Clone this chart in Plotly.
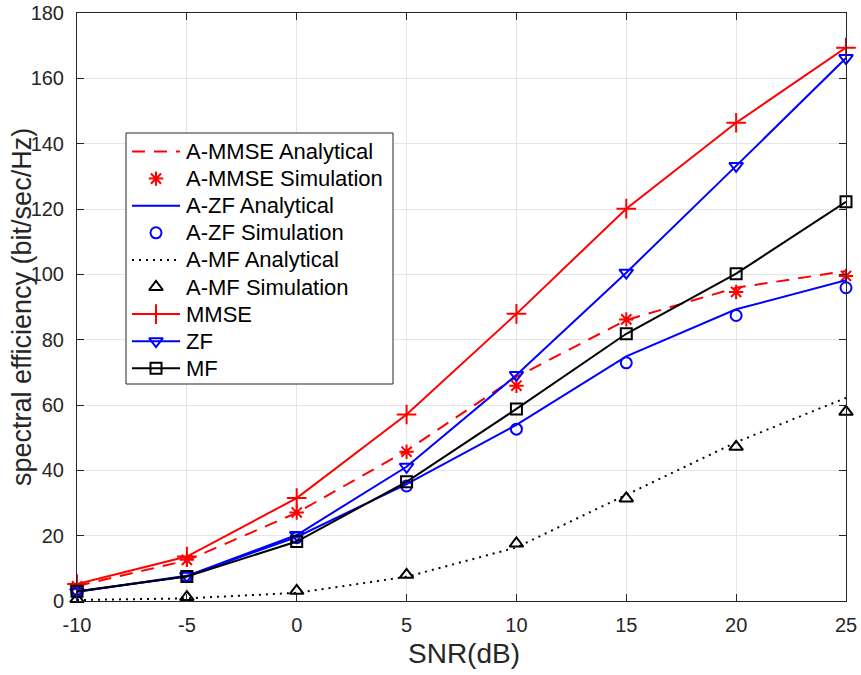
import plotly.graph_objects as go

snr = [-10, -5, 0, 5, 10, 15, 20, 25]

a_mmse_analytical = [4.6, 12.4, 27.0, 46.0, 68.6, 86.0, 95.9, 101.0]
a_mmse_simulation = [4.5, 12.6, 27.1, 45.7, 65.9, 86.2, 94.6, 99.5]
a_zf_analytical = [2.8, 7.6, 19.6, 35.8, 53.9, 74.9, 89.3, 98.2]
a_zf_simulation = [2.7, 7.5, 19.4, 35.2, 52.6, 72.9, 87.4, 95.9]
a_mf_analytical = [0.3, 0.8, 2.5, 7.4, 16.4, 32.4, 48.6, 62.2]
a_mf_simulation = [0.6, 1.2, 3.1, 8.0, 17.6, 31.4, 47.2, 57.9]
mmse = [5.2, 13.6, 31.5, 57.1, 87.9, 120.1, 146.4, 169.4]
zf = [2.8, 7.7, 20.2, 41.1, 69.2, 100.5, 133.2, 166.2]
mf = [3.0, 7.5, 18.2, 36.5, 58.8, 81.8, 100.2, 122.2]

RED = "#ff0000"
BLUE = "#0000ff"
BLACK = "#000000"
LW = 2
FONT = "Liberation Sans, Arial, sans-serif"
AXIS_COLOR = "#262626"

X_RANGE = [-10, 25]
Y_RANGE = [0, 180]

# plot-area pixel geometry
W, H = 861, 675
L, R, T, B = 77, 15, 13, 74
X0, X1 = L, W - R
Y0, Y1 = H - B, T

# series definitions: (name, values, color, show line, dash, marker symbol, marker size)
series = [
    ("A-MMSE Analytical", a_mmse_analytical, RED, True, "13px,9px", None, 0),
    ("A-MMSE Simulation", a_mmse_simulation, RED, False, None, "asterisk-open", 12),
    ("A-ZF Analytical", a_zf_analytical, BLUE, True, "solid", None, 0),
    ("A-ZF Simulation", a_zf_simulation, BLUE, False, None, "circle-open", 11),
    ("A-MF Analytical", a_mf_analytical, BLACK, True, "2px,5px", None, 0),
    ("A-MF Simulation", a_mf_simulation, BLACK, False, None, "triangle-up-open", 12),
    ("MMSE", mmse, RED, True, "solid", "cross-thin-open", 14),
    ("ZF", zf, BLUE, True, "solid", "triangle-down-open", 12),
    ("MF", mf, BLACK, True, "solid", "square-open", 11),
]

fig = go.Figure()

for name, y, color, has_line, dash, symbol, size in series:
    mode = "+".join(m for m, on in (("lines", has_line), ("markers", symbol is not None)) if on)
    kw = dict(x=snr, y=y, name=name, mode=mode, showlegend=False, cliponaxis=False)
    if has_line:
        kw["line"] = dict(color=color, width=LW, dash=dash)
    if symbol:
        kw["marker"] = dict(symbol=symbol, size=size, color=color,
                            line=dict(color=color, width=2))
    fig.add_trace(go.Scatter(**kw))

# legend box: pixel placement, drawn on a pixel-unit overlay axis pair
LEG_LEFT, LEG_TOP, LEG_RIGHT, LEG_BOTTOM = 126, 133, 393, 384
ROW0, ROW_STEP = 151.5, 27.1
SAMPLE_X0, SAMPLE_X1, TEXT_X = 132, 180, 184


def px_to_x(px):
    return X_RANGE[0] + (px - X0) / (X1 - X0) * (X_RANGE[1] - X_RANGE[0])


def px_to_y(py):
    return Y_RANGE[0] + (Y0 - py) / (Y0 - Y1) * (Y_RANGE[1] - Y_RANGE[0])


def paper_x(px):
    return (px - X0) / (X1 - X0)


def paper_y(py):
    return (Y0 - py) / (Y0 - Y1)


fig.add_shape(type="rect", xref="x", yref="y",
              x0=px_to_x(LEG_LEFT), x1=px_to_x(LEG_RIGHT),
              y0=px_to_y(LEG_BOTTOM), y1=px_to_y(LEG_TOP),
              fillcolor="white", line=dict(color=AXIS_COLOR, width=1), layer="between")

for i, (name, y, color, has_line, dash, symbol, size) in enumerate(series):
    yr = ROW0 + i * ROW_STEP
    if has_line:
        fig.add_trace(go.Scatter(x=[SAMPLE_X0, SAMPLE_X1], y=[yr, yr], mode="lines",
                                 line=dict(color=color, width=LW, dash=dash),
                                 xaxis="x2", yaxis="y2", showlegend=False, hoverinfo="skip"))
    if symbol:
        fig.add_trace(go.Scatter(x=[(SAMPLE_X0 + SAMPLE_X1) / 2], y=[yr], mode="markers",
                                 marker=dict(symbol=symbol, size=size, color=color,
                                             line=dict(color=color, width=2)),
                                 xaxis="x2", yaxis="y2", showlegend=False, hoverinfo="skip"))
    fig.add_annotation(x=TEXT_X, y=yr, xref="x2", yref="y2", text=name,
                       showarrow=False, xanchor="left", yanchor="middle",
                       font=dict(family=FONT, size=22, color="#000000"))

# axis titles
fig.add_annotation(x=paper_x(464), y=paper_y(653), xref="paper", yref="paper",
                   text="SNR(dB)", showarrow=False, xanchor="center", yanchor="middle",
                   font=dict(family=FONT, size=28, color=AXIS_COLOR))
fig.add_annotation(x=paper_x(22), y=paper_y(307), xref="paper", yref="paper",
                   text="spectral efficiency (bit/sec/Hz)", textangle=-90,
                   showarrow=False, xanchor="center", yanchor="middle",
                   font=dict(family=FONT, size=27, color=AXIS_COLOR))

axis_common = dict(
    showgrid=True, gridcolor="#e6e6e6", gridwidth=1,
    showline=True, linecolor=AXIS_COLOR, linewidth=1, mirror="allticks",
    ticks="inside", ticklen=7, tickcolor=AXIS_COLOR, tickwidth=1,
    zeroline=False, automargin=False,
    tickfont=dict(family=FONT, size=20, color=AXIS_COLOR),
)

fig.update_layout(
    width=W, height=H,
    margin=dict(l=L, r=R, t=T, b=B),
    paper_bgcolor="white", plot_bgcolor="white",
    font=dict(family=FONT, color="#000000"),
    showlegend=False,
    xaxis=dict(range=X_RANGE, tickvals=snr, ticktext=[str(v) for v in snr],
               ticklabelstandoff=6, **axis_common),
    yaxis=dict(range=Y_RANGE, tickvals=list(range(0, 181, 20)),
               ticklabelstandoff=8, **axis_common),
    xaxis2=dict(overlaying="x", range=[X0, X1], visible=False, fixedrange=True),
    yaxis2=dict(overlaying="y", range=[Y0, Y1], visible=False, fixedrange=True),
)

fig.write_html("out.html")
